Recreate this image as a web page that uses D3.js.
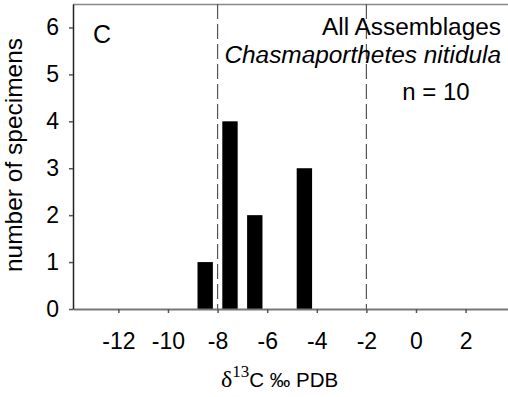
<!DOCTYPE html>
<html>
<head>
<title>All Assemblages - Chasmaporthetes nitidula</title>
<script src="https://d3js.org/d3.v7.min.js"></script>
<style>
  body { margin: 0; background: #fff; }
  text { font-family: "Liberation Sans", Arial, sans-serif; fill: #000; }
</style>
</head>
<body>
<div id="chart"></div>
<script>
    // bin centres (delta 13C) and counts
    var binCenters = [-8.5, -7.5, -6.5, -5.5, -4.5];
    var counts = [1, 4, 2, 0, 3];
    var xTicks = [-12, -10, -8, -6, -4, -2, 0, 2];
    var yTicks = [0, 1, 2, 3, 4, 5, 6];
    var cutoffs = [-8, -2];

    var W = 508, H = 397;
    var svg = d3.select("#chart").append("svg")
        .attr("width", W)
        .attr("height", H);

    var x = d3.scaleLinear().domain([-13.83, 3.71]).range([73, 508]);
    var y = d3.scaleLinear().domain([0, 6.5]).range([309, 4]);

    // top frame line
    svg.append("line")
        .attr("x1", 73).attr("x2", W)
        .attr("y1", 4.5).attr("y2", 4.5)
        .attr("stroke", "#888").attr("stroke-width", 1.5);

    // bars
    var barW = x(0.62) - x(0);
    svg.selectAll(".bar")
        .data(binCenters.map(function(c, i) { return {c: c, n: counts[i]}; }).filter(function(d) { return d.n > 0; }))
        .enter().append("rect")
        .attr("class", "bar")
        .attr("x", function(d) { return x(d.c) - barW / 2; })
        .attr("width", barW)
        .attr("y", function(d) { return y(d.n); })
        .attr("height", function(d) { return y(0) - y(d.n); })
        .attr("fill", "#000");

    // dashed cut-off lines
    svg.selectAll(".cut")
        .data(cutoffs)
        .enter().append("line")
        .attr("x1", function(d) { return x(d); })
        .attr("x2", function(d) { return x(d); })
        .attr("y1", 4).attr("y2", 309)
        .attr("stroke", "#555").attr("stroke-width", 1.2)
        .attr("stroke-dasharray", "15,5");

    // x axis
    var xAxis = svg.append("g")
        .attr("transform", "translate(0,309)")
        .call(d3.axisBottom(x).tickValues(xTicks).tickSize(4).tickPadding(20).tickSizeOuter(0));
    xAxis.select(".domain").attr("stroke", "#777").attr("stroke-width", 2);
    xAxis.selectAll(".tick line").attr("stroke", "#555").attr("stroke-width", 1.5);
    xAxis.selectAll(".tick text")
        .style("font-size", "23px")
        .text(function(d) { return d < 0 ? "-" + Math.abs(d) : d; });

    // y axis
    var yAxis = svg.append("g")
        .attr("transform", "translate(73,0)")
        .call(d3.axisLeft(y).tickValues(yTicks).tickFormat(d3.format("d")).tickSize(4).tickPadding(10).tickSizeOuter(0));
    yAxis.select(".domain").attr("stroke", "#222").attr("stroke-width", 1.5);
    yAxis.selectAll(".tick line").attr("stroke", "#555").attr("stroke-width", 1.5);
    yAxis.selectAll(".tick text").style("font-size", "23px");

    // axis titles
    svg.append("text")
        .attr("transform", "translate(22,155) rotate(-90)")
        .attr("text-anchor", "middle")
        .style("font-size", "24.5px")
        .text("number of specimens");

    var xl = svg.append("text")
        .attr("x", 221).attr("y", 387)
        .style("font-size", "20.5px");
    xl.append("tspan").style("font-family", "'Liberation Serif', 'Times New Roman', serif").style("font-size", "24px").text("\u03b4");
    xl.append("tspan").style("font-family", "'Liberation Serif', 'Times New Roman', serif").style("font-size", "17px").attr("dy", -10).text("13");
    xl.append("tspan").attr("dy", 10).text("C \u2030 PDB");

    // annotations
    svg.append("text").attr("x", 93).attr("y", 43).style("font-size", "25px").text("C");
    svg.append("text").attr("x", 501).attr("y", 35).attr("text-anchor", "end")
        .style("font-size", "24.4px").text("All Assemblages");
    svg.append("text").attr("x", 501).attr("y", 63).attr("text-anchor", "end")
        .style("font-size", "24.4px").style("font-style", "italic").text("Chasmaporthetes nitidula");
    svg.append("text").attr("x", 436).attr("y", 100).attr("text-anchor", "middle")
        .style("font-size", "24px").text("n = 10");
</script>
</body>
</html>
